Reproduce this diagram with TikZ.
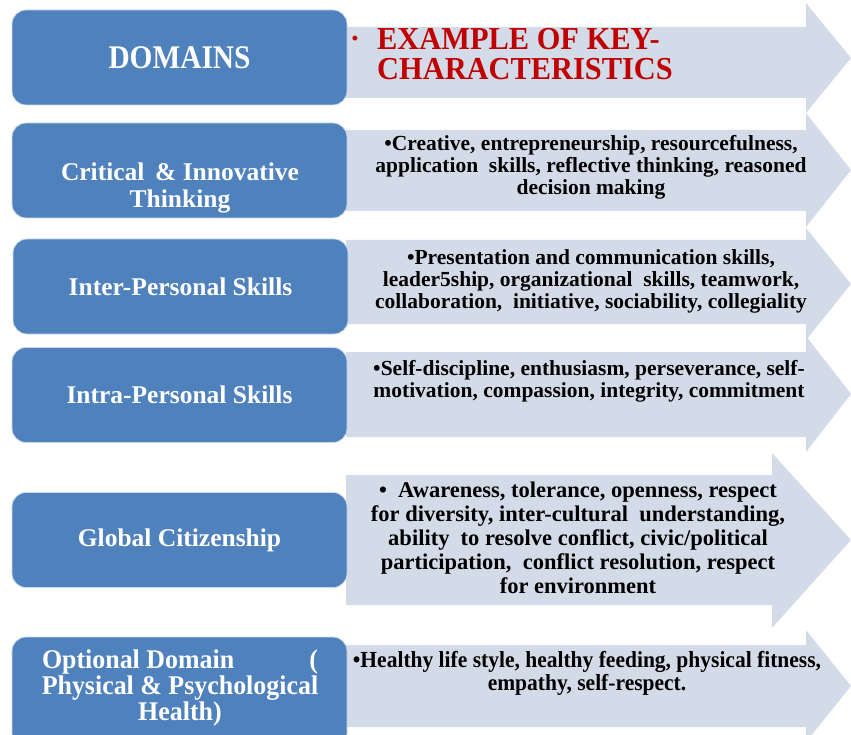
\documentclass[tikz,border=0pt]{standalone}
\usepackage{fontspec}
\setmainfont{Liberation Serif}
\newfontfamily\narrowserif[FakeStretch=0.89]{Liberation Serif}
\newfontfamily\headserif[FakeStretch=0.95]{Liberation Serif}
\newfontfamily\healthserif[FakeStretch=0.96]{Liberation Serif}
\newfontfamily\fitserif[FakeStretch=0.935]{Liberation Serif}
\definecolor{domainblue}{HTML}{4F81BD}
\definecolor{arrowfill}{HTML}{D4DBE8}
\definecolor{headred}{HTML}{C00000}

% light arrow behind each domain: left, body top, body bottom, head base x, head top, head bottom, tip y
\newcommand\keyarrow[7]{%
  \fill[arrowfill] (#1,#2) -- (#4,#2) -- (#4,#5) -- (851,#7) -- (#4,#6) -- (#4,#3) -- (#1,#3) -- cycle;}

\begin{document}
\begin{tikzpicture}[x=1pt,y=-1pt,
  domainbox/.style={fill=domainblue, draw=white!70!domainblue, line width=0.8pt,
    rounded corners=14pt, minimum width=335pt, minimum height=95pt,
    text=white, align=center, inner sep=0pt},
  domainfont/.style={text=white, align=center, inner sep=0pt,
    font=\fontsize{25.5}{27}\selectfont\bfseries},
  keytext/.style={text=black, align=center, inner sep=0pt,
    font=\fontsize{21.5}{22}\selectfont\bfseries}]
\useasboundingbox (0,0) rectangle (851,735);
\clip (0,0) rectangle (851,735);

% arrows
\keyarrow{346}{27}{98}{806}{3}{113}{58}
\keyarrow{346}{130}{211}{806}{113}{227}{170}
\keyarrow{346}{240}{324}{806}{228}{340}{284}
\keyarrow{346}{352}{437}{806}{336}{452}{394}
\keyarrow{346}{475}{605}{772}{453}{628}{540}
\keyarrow{346}{645}{727}{806}{630}{742}{686}

% domain boxes
\node[domainbox, font=\narrowserif\fontsize{33}{36}\selectfont\bfseries] (d1) at (179.5,57.5) {DOMAINS};
\node[domainbox] (d2) at (179.5,170.5) {};
\node[domainfont] (d2t) at (180,188) {Critical \,\&\ Innovative\\Thinking};
\node[domainbox, domainfont, minimum width=335pt, minimum height=95pt] (d3) at (180.5,286.5) {Inter-Personal Skills};
\node[domainbox, domainfont, minimum width=335pt, minimum height=95pt] (d4) at (179.5,395) {Intra-Personal Skills};
\node[domainbox, domainfont, minimum width=335pt, minimum height=95pt] (d5) at (179.5,540) {Global Citizenship};
\node[domainbox, minimum height=110pt] (d6) at (179.5,692) {};
\node[text=white, inner sep=0pt, font=\healthserif\fontsize{27}{25.5}\selectfont\bfseries]
  (d6t) at (180,689) {\begin{tabular}{@{}c@{}}\makebox[276pt][s]{Optional Domain\hfill(}\\
  Physical \& Psychological\\Health)\end{tabular}};

% header characteristics
\node[text=headred, inner sep=0pt, font=\fontsize{18}{18}\selectfont\bfseries] (b1) at (355,40) {•};
\node[text=headred, anchor=north west, align=left, inner sep=0pt,
  font=\headserif\fontsize{32}{30}\selectfont\bfseries] (k1) at (377,28)
  {EXAMPLE OF KEY-\\CHARACTERISTICS};

% key characteristics
\node[keytext] (k2) at (591,167) {•Creative, entrepreneurship, resourcefulness,\\
  application\ \ skills, reflective thinking, reasoned\\decision making};
\node[keytext] (k3) at (591,281) {•Presentation and communication skills,\\
  leader5ship, organizational\ \ skills, teamwork,\\
  collaboration,\ \ initiative, sociability, collegiality};
\node[keytext] (k4) at (589,381) {•Self-discipline, enthusiasm, perseverance, self-\\
  motivation, compassion, integrity, commitment};
\node[keytext, font=\fontsize{22.5}{24}\selectfont\bfseries] (k5) at (578,538)
  {•\ \ Awareness, tolerance, openness, respect\\
  for diversity, inter-cultural\ \ understanding,\\
  ability\ \ to resolve conflict, civic/political\\
  participation,\ \ conflict resolution, respect\\
  for environment};
\node[keytext, font=\fitserif\fontsize{23}{23}\selectfont\bfseries] (k6) at (587,673.5)
  {•Healthy life style, healthy feeding, physical fitness,\\empathy, self-respect.};
\end{tikzpicture}
\end{document}
